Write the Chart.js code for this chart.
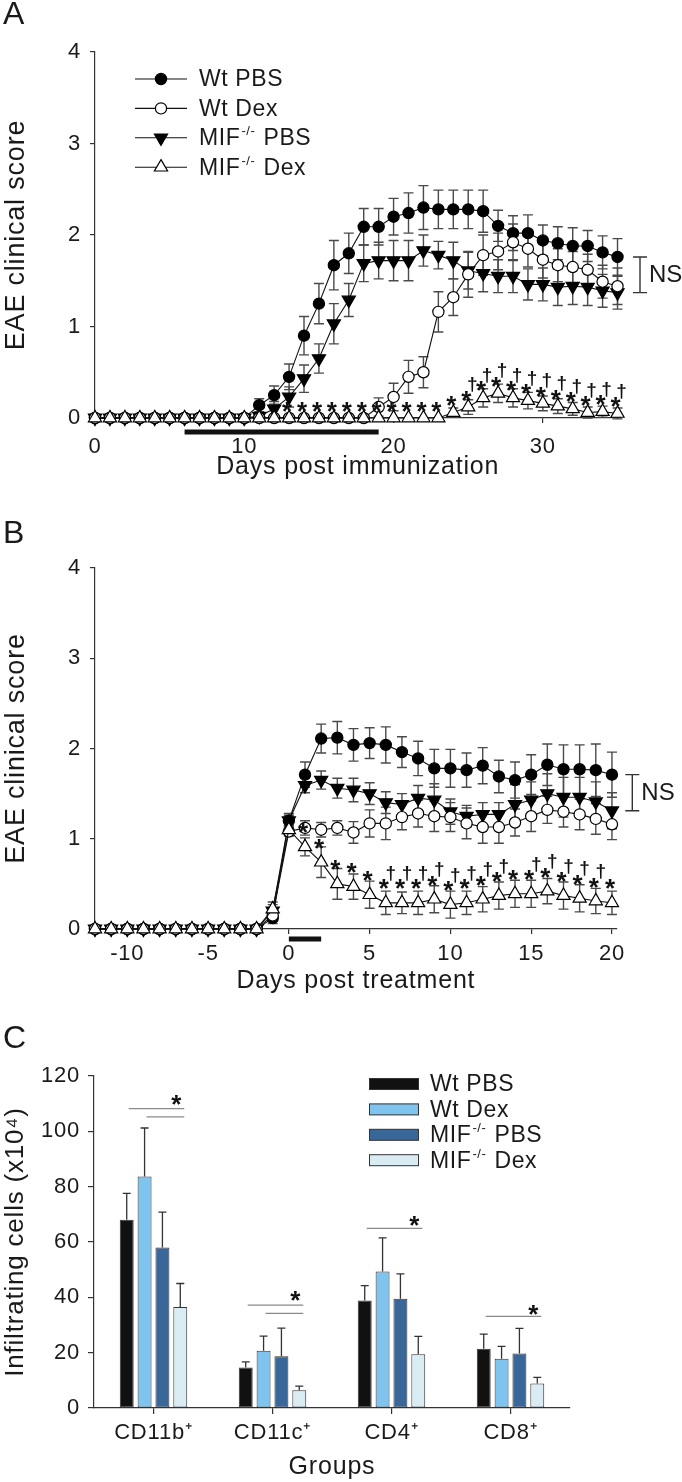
<!DOCTYPE html>
<html><head><meta charset="utf-8">
<script src="https://cdn.jsdelivr.net/npm/chart.js@4.4.1/dist/chart.umd.min.js"></script>
<style>
html,body{margin:0;padding:0;background:#fff;}
body{width:682px;height:1482px;position:relative;overflow:hidden;}
canvas{position:absolute;left:0;display:block;}
</style></head><body>
<canvas id="cA" width="682" height="490" style="top:0"></canvas>
<canvas id="cB" width="682" height="510" style="top:490px"></canvas>
<canvas id="cC" width="682" height="482" style="top:1000px"></canvas>
<script>
// ---------------- DATA ----------------
const seriesLabels = ['Wt PBS', 'Wt Dex', 'MIF-/- PBS', 'MIF-/- Dex'];

// Panel A: days post immunization
const daysA = [0,1,2,3,4,5,6,7,8,9,10,11,12,13,14,15,16,17,18,19,20,21,22,23,24,25,26,27,28,29,30,31,32,33,34,35];
const A_wtPBS     = [0,0,0,0,0,0,0,0,0,0,0, 0.14,0.25,0.45,0.90,1.25,1.67,1.80,2.09,2.09,2.20,2.24,2.30,2.28,2.28,2.28,2.26,2.10,2.02,2.02,1.94,1.91,1.88,1.88,1.81,1.76];
const A_wtPBS_err = [0,0,0,0,0,0,0,0,0,0,0, 0.07,0.10,0.14,0.21,0.22,0.27,0.22,0.20,0.20,0.20,0.22,0.24,0.21,0.21,0.21,0.23,0.17,0.19,0.20,0.17,0.18,0.20,0.17,0.18,0.20];
const A_wtDex     = [0,0,0,0,0,0,0,0,0,0,0,0,0,0,0,0,0,0,0, 0.12,0.23,0.45,0.50,1.16,1.32,1.57,1.78,1.82,1.92,1.85,1.73,1.67,1.65,1.62,1.49,1.44];
const A_wtDex_err = [0,0,0,0,0,0,0,0,0,0,0,0,0,0,0,0,0,0,0, 0.10,0.15,0.18,0.17,0.22,0.20,0.25,0.22,0.20,0.20,0.20,0.20,0.18,0.17,0.17,0.18,0.20];
const A_mifPBS     = [0,0,0,0,0,0,0,0,0,0,0, 0.02,0.10,0.23,0.43,0.65,1.03,1.29,1.69,1.72,1.72,1.72,1.83,1.78,1.72,1.61,1.58,1.55,1.55,1.46,1.46,1.43,1.44,1.43,1.39,1.37];
const A_mifPBS_err = [0,0,0,0,0,0,0,0,0,0,0, 0.03,0.08,0.11,0.15,0.16,0.22,0.18,0.20,0.20,0.22,0.22,0.17,0.15,0.20,0.20,0.20,0.18,0.18,0.17,0.18,0.20,0.20,0.20,0.18,0.18];
const A_mifDex     = [0,0,0,0,0,0,0,0,0,0,0,0,0,0,0,0,0,0,0,0,0,0,0,0, 0.06,0.12,0.22,0.27,0.22,0.19,0.16,0.13,0.10,0.06,0.07,0.05];
const A_mifDex_err = [0,0,0,0,0,0,0,0,0,0,0,0,0,0,0,0,0,0,0,0,0,0,0,0, 0.05,0.08,0.10,0.10,0.10,0.09,0.08,0.08,0.07,0.06,0.06,0.06];
const A_treatment = [6, 19];
const A_starDays = [13,14,15,16,17,18,19,20,21,22,23,24,25,26,27,28,29,30,31,32,33,34,35];
const A_daggerDays = [25,26,27,28,29,30,31,32,33,34,35];

// Panel B: days post treatment
const daysB = [-12,-11,-10,-9,-8,-7,-6,-5,-4,-3,-2,-1,0,1,2,3,4,5,6,7,8,9,10,11,12,13,14,15,16,17,18,19,20];
const B_wtPBS      = [0,0,0,0,0,0,0,0,0,0,0, 0.12,1.20,1.71,2.11,2.12,2.04,2.06,2.04,1.96,1.89,1.78,1.78,1.76,1.81,1.69,1.65,1.71,1.82,1.77,1.77,1.76,1.71];
const B_wtPBS_err  = [0,0,0,0,0,0,0,0,0,0,0, 0.06,0.08,0.14,0.16,0.18,0.18,0.17,0.20,0.17,0.19,0.21,0.21,0.19,0.20,0.18,0.20,0.22,0.23,0.27,0.27,0.29,0.25];
const B_wtDex      = [0,0,0,0,0,0,0,0,0,0,0, 0.15,1.08,1.12,1.10,1.12,1.07,1.17,1.17,1.24,1.28,1.25,1.24,1.17,1.13,1.13,1.18,1.25,1.32,1.30,1.27,1.22,1.16];
const B_wtDex_err  = [0,0,0,0,0,0,0,0,0,0,0, 0.06,0.05,0.08,0.08,0.08,0.12,0.15,0.18,0.14,0.15,0.17,0.16,0.17,0.18,0.18,0.15,0.17,0.15,0.17,0.17,0.17,0.17];
const B_mifPBS     = [0,0,0,0,0,0,0,0,0,0,0, 0.20,1.20,1.59,1.65,1.56,1.54,1.50,1.40,1.38,1.45,1.43,1.30,1.25,1.27,1.27,1.38,1.43,1.50,1.46,1.46,1.41,1.31];
const B_mifPBS_err = [0,0,0,0,0,0,0,0,0,0,0, 0.07,0.06,0.08,0.10,0.11,0.13,0.12,0.12,0.12,0.14,0.18,0.14,0.12,0.13,0.13,0.22,0.20,0.22,0.22,0.22,0.22,0.20];
const B_mifDex     = [0,0,0,0,0,0,0,0,0,0,0, 0.22,1.10,0.91,0.74,0.50,0.47,0.38,0.29,0.29,0.29,0.33,0.27,0.29,0.33,0.37,0.39,0.39,0.42,0.37,0.34,0.31,0.29];
const B_mifDex_err = [0,0,0,0,0,0,0,0,0,0,0, 0.08,0.05,0.10,0.17,0.17,0.14,0.15,0.13,0.12,0.13,0.15,0.15,0.13,0.14,0.15,0.15,0.15,0.14,0.15,0.15,0.14,0.13];
const B_treatment = [0, 2];
const B_starDays = [1,2,3,4,5,6,7,8,9,10,11,12,13,14,15,16,17,18,19,20];
const B_daggerDays = [6,7,8,9,10,11,12,13,15,16,17,18,19];

// Panel C: infiltrating cells (x10^4)
const C_groups = ['CD11b\u207A', 'CD11c\u207A', 'CD4\u207A', 'CD8\u207A'];
const C_wtPBS      = [68.0, 14.6, 38.9, 21.4];
const C_wtPBS_err  = [9.6, 2.1, 5.3, 5.3];
const C_wtDex      = [83.7, 20.7, 49.3, 17.8];
const C_wtDex_err  = [17.5, 5.3, 12.2, 4.5];
const C_mifPBS     = [58.0, 18.7, 39.5, 19.7];
const C_mifPBS_err = [12.8, 10.2, 9.0, 9.1];
const C_mifDex     = [36.5, 6.4, 19.4, 8.9];
const C_mifDex_err = [8.5, 1.5, 6.5, 2.2];
// significance: [from-series index, line level] per group, star level per group
const C_sigLines = [[[0,108.2],[1,105.2]], [[0,37.2],[1,34.2]], [[0,64.9]], [[0,33.1]]];
const C_sigStar  = [111.9, 40.9, 68.0, 36.1];

// ---------------- STYLE ----------------
const FONT = '"Liberation Sans", Arial, Helvetica, sans-serif';
Chart.defaults.font.family = FONT;
Chart.defaults.color = '#1a1a1a';
Chart.defaults.animation = false;
Chart.defaults.plugins.legend.display = false;
Chart.defaults.plugins.tooltip.enabled = false;

const TICK_FS = 22, TITLE_FS = 25, YTITLE_FS = 27, LEG_FS = 23;

const markers = [
  {pointStyle:'circle', rotation:0, radius:5.6, fill:'#000'},
  {pointStyle:'circle', rotation:0, radius:5.6, fill:'#fff'},
  {pointStyle:'triangle', rotation:180, radius:7.6, fill:'#000'},
  {pointStyle:'triangle', rotation:0, radius:7.6, fill:'#fff'}
];
const drawOrder = [4, 2, 3, 1];
const barColors = ['#111111', '#7ec4ee', '#3a6799', '#d9ebf3'];

function mkDs(i, days, vals, errs) {
  const m = markers[i];
  return {
    label: seriesLabels[i],
    data: days.map((d, k) => ({x: d, y: vals[k]})),
    errors: errs,
    borderColor: '#111', borderWidth: 1.1, tension: 0, clip: false,
    pointStyle: m.pointStyle, pointRotation: m.rotation, pointRadius: m.radius, pointHoverRadius: m.radius,
    pointBackgroundColor: m.fill, pointBorderColor: '#000', pointBorderWidth: 1.2,
    order: drawOrder[i]
  };
}

function supText(ctx, text, x, y, fs) {
  const parts = text.split('-/-');
  ctx.textAlign = 'left'; ctx.textBaseline = 'middle';
  ctx.font = fs + 'px ' + FONT;
  let cx = x;
  ctx.fillText(parts[0], cx, y); cx += ctx.measureText(parts[0]).width;
  if (parts.length > 1) {
    const sf = Math.round(fs * 0.58);
    ctx.font = sf + 'px ' + FONT;
    ctx.fillText('-/-', cx + 1, y - fs * 0.3);
    cx += ctx.measureText('-/-').width + 2;
    ctx.font = fs + 'px ' + FONT;
    ctx.fillText(parts[1], cx, y);
  }
}
function drawStar(ctx, x, yc) {
  const fs = 26;
  ctx.font = 'bold ' + fs + 'px ' + FONT; ctx.textAlign = 'center'; ctx.textBaseline = 'alphabetic';
  ctx.fillText('*', x, yc + 0.56 * fs);
}
function drawDagger(ctx, x, yc) {
  const fs = 19;
  ctx.font = 'bold ' + fs + 'px ' + FONT; ctx.textAlign = 'center'; ctx.textBaseline = 'alphabetic';
  ctx.fillText('\u2020', x, yc + 0.27 * fs);
}
function drawMarker(ctx, m, x, y) {
  ctx.fillStyle = m.fill; ctx.strokeStyle = '#000'; ctx.lineWidth = 1.2;
  ctx.beginPath();
  if (m.pointStyle === 'circle') {
    ctx.arc(x, y, m.radius, 0, Math.PI * 2);
  } else {
    let rad = m.rotation * Math.PI / 180;
    for (let k = 0; k < 3; k++) {
      const px = x + Math.sin(rad) * m.radius, py = y - Math.cos(rad) * m.radius;
      if (k === 0) ctx.moveTo(px, py); else ctx.lineTo(px, py);
      rad += 2 * Math.PI / 3;
    }
    ctx.closePath();
  }
  ctx.fill(); ctx.stroke();
}
function drawLetter(ctx, letter, x, y) {
  ctx.save();
  ctx.fillStyle = '#1a1a1a';
  ctx.font = '32px ' + FONT; ctx.textAlign = 'center'; ctx.textBaseline = 'middle';
  ctx.fillText(letter, x, y);
  ctx.restore();
}

const spacingPlugin = { id: 'spacing', beforeDraw(chart) { chart.ctx.letterSpacing = '0.8px'; } };

// error bars for line charts (symmetric, capped)
const errPlugin = {
  id: 'errbars',
  beforeDatasetsDraw(chart) {
    const {ctx, scales: {x, y}} = chart;
    ctx.save();
    ctx.strokeStyle = '#4a4a4a'; ctx.lineWidth = 1.4;
    chart.data.datasets.forEach(ds => {
      ds.data.forEach((p, k) => {
        const e = ds.errors[k];
        if (!e) return;
        const px = x.getPixelForValue(p.x);
        const yt = y.getPixelForValue(p.y + e), yb = y.getPixelForValue(p.y - e);
        ctx.beginPath();
        ctx.moveTo(px, yt); ctx.lineTo(px, yb);
        ctx.moveTo(px - 5, yt); ctx.lineTo(px + 5, yt);
        ctx.moveTo(px - 5, yb); ctx.lineTo(px + 5, yb);
        ctx.stroke();
      });
    });
    ctx.restore();
  }
};

const annPlugin = {
  id: 'ann',
  afterDatasetsDraw(chart, args, o) {
    const {ctx, chartArea: ca, scales: {x, y}} = chart;
    const dsets = chart.data.datasets;
    ctx.save();
    ctx.letterSpacing = '0px';
    ctx.fillStyle = '#111';
    const ref = dsets[3];
    const valAt = d => { const p = ref.data.find(q => q.x === d); return p ? p.y : 0; };
    o.stars.forEach(d => drawStar(ctx, x.getPixelForValue(d) + o.starDx, y.getPixelForValue(valAt(d)) + o.starDy));
    o.daggers.forEach(d => drawDagger(ctx, x.getPixelForValue(d) + o.dagDx, y.getPixelForValue(valAt(d)) + o.dagDy));
    // treatment period bar
    ctx.strokeStyle = '#111'; ctx.lineWidth = 5; ctx.lineCap = 'butt';
    const yb = ca.bottom + o.barOffset;
    ctx.beginPath(); ctx.moveTo(x.getPixelForValue(o.treat[0]), yb); ctx.lineTo(x.getPixelForValue(o.treat[1]), yb); ctx.stroke();
    // NS bracket between last Wt PBS and last MIF PBS points
    const lastY = ds => ds.data[ds.data.length - 1].y;
    const y1 = y.getPixelForValue(lastY(dsets[0])), y2 = y.getPixelForValue(lastY(dsets[2]));
    const bx = ca.right + o.nsDx;
    ctx.strokeStyle = '#333'; ctx.lineWidth = 1.4;
    ctx.beginPath();
    ctx.moveTo(bx, y1); ctx.lineTo(bx, y2);
    ctx.moveTo(bx - 7, y1); ctx.lineTo(bx + 7, y1);
    ctx.moveTo(bx - 7, y2); ctx.lineTo(bx + 7, y2);
    ctx.stroke();
    ctx.fillStyle = '#1a1a1a';
    ctx.font = '24px ' + FONT; ctx.textAlign = 'left'; ctx.textBaseline = 'middle';
    ctx.fillText('NS', bx + 9, (y1 + y2) / 2 + 1);
    // legend
    if (o.legend) {
      const L = o.legend;
      dsets.forEach((ds, i) => {
        const ly = L.y0 + i * L.dy;
        ctx.strokeStyle = '#111'; ctx.lineWidth = 1.1;
        ctx.beginPath(); ctx.moveTo(L.x - L.half, ly); ctx.lineTo(L.x + L.half, ly); ctx.stroke();
        drawMarker(ctx, markers[i], L.x, ly);
        ctx.fillStyle = '#1a1a1a';
        ctx.letterSpacing = '0.6px';
        supText(ctx, ds.label, L.textX, ly + 1, LEG_FS);
        ctx.letterSpacing = '0px';
      });
    }
    ctx.restore();
    drawLetter(ctx, o.letter, o.letterX, o.letterY);
  }
};

function lineOptions(p) {
  const tickFont = {size: TICK_FS};
  return {
    responsive: false,
    layout: {padding: {top: p.top, right: p.right, bottom: 0, left: 0}},
    scales: {
      x: {
        type: 'linear', min: p.xmin, max: p.xmax,
        afterFit: s => { s.height = p.xH; },
        border: {display: true, color: '#333', width: 1.2},
        grid: {display: true, drawOnChartArea: false, drawTicks: true, tickLength: 5, color: '#333', lineWidth: 1.2},
        ticks: {stepSize: p.xstep, includeBounds: false, font: tickFont, padding: p.xTickPad, color: '#1a1a1a', maxRotation: 0, autoSkip: false},
        title: {display: true, text: p.xTitle, font: {size: TITLE_FS}, color: '#1a1a1a', padding: {top: 0, bottom: p.xTitlePad}}
      },
      y: {
        type: 'linear', min: 0, max: 4,
        afterFit: s => { s.width = p.yW; },
        border: {display: true, color: '#333', width: 1.2},
        grid: {display: true, drawOnChartArea: false, drawTicks: true, tickLength: 5, color: '#333', lineWidth: 1.2},
        ticks: {stepSize: 1, font: tickFont, padding: p.yTickPad, color: '#1a1a1a'},
        title: {display: true, text: 'EAE clinical score', font: {size: YTITLE_FS}, color: '#1a1a1a', padding: {top: 0, bottom: 0}}
      }
    },
    plugins: {ann: p.ann}
  };
}

// ---------------- PANEL A ----------------
new Chart(document.getElementById('cA'), {
  type: 'line',
  data: {datasets: [
    mkDs(0, daysA, A_wtPBS, A_wtPBS_err),
    mkDs(1, daysA, A_wtDex, A_wtDex_err),
    mkDs(2, daysA, A_mifPBS, A_mifPBS_err),
    mkDs(3, daysA, A_mifDex, A_mifDex_err)
  ]},
  options: lineOptions({
    top: 52, right: 61.5, xH: 72, yW: 95, xmin: 0, xmax: 35.2, xstep: 10,
    xTickPad: 11, xTitlePad: 8, yTickPad: 9, xTitle: 'Days post immunization',
    ann: {stars: A_starDays, daggers: A_daggerDays, starDx: -2, starDy: -13, dagDx: 4, dagDy: -22,
          treat: A_treatment, barOffset: 14, nsDx: 19.5,
          legend: {x: 161, y0: 79, dy: 29.4, half: 26, textX: 199},
          letter: 'A', letterX: 14, letterY: 15}
  }),
  plugins: [spacingPlugin, errPlugin, annPlugin]
});

// ---------------- PANEL B ----------------
new Chart(document.getElementById('cB'), {
  type: 'line',
  data: {datasets: [
    mkDs(0, daysB, B_wtPBS, B_wtPBS_err),
    mkDs(1, daysB, B_wtDex, B_wtDex_err),
    mkDs(2, daysB, B_mifPBS, B_mifPBS_err),
    mkDs(3, daysB, B_mifDex, B_mifDex_err)
  ]},
  options: lineOptions({
    top: 78, right: 65.2, xH: 71, yW: 95, xmin: -12, xmax: 20.3, xstep: 5,
    xTickPad: 7, xTitlePad: 4, yTickPad: 9, xTitle: 'Days post treatment',
    ann: {stars: B_starDays, daggers: B_daggerDays, starDx: -2, starDy: -20, dagDx: 5, dagDy: -29,
          treat: B_treatment, barOffset: 10, nsDx: 15.5, legend: null,
          letter: 'B', letterX: 14, letterY: 44}
  }),
  plugins: [spacingPlugin, errPlugin, annPlugin]
});

// ---------------- PANEL C ----------------
const barErrPlugin = {
  id: 'barAnn',
  afterDatasetsDraw(chart) {
    const {ctx, scales: {y}} = chart;
    const dsets = chart.data.datasets;
    ctx.save();
    ctx.letterSpacing = '0px';
    // error bars (upper)
    ctx.strokeStyle = '#333'; ctx.lineWidth = 1.3;
    dsets.forEach((ds, i) => {
      const meta = chart.getDatasetMeta(i);
      meta.data.forEach((el, k) => {
        const yt = y.getPixelForValue(ds.data[k] + ds.errors[k]);
        ctx.beginPath();
        ctx.moveTo(el.x, el.y); ctx.lineTo(el.x, yt);
        ctx.moveTo(el.x - 4, yt); ctx.lineTo(el.x + 4, yt);
        ctx.stroke();
      });
    });
    // significance lines
    const last = chart.getDatasetMeta(3);
    ctx.strokeStyle = '#8a8a8a'; ctx.lineWidth = 1.3;
    C_sigLines.forEach((lines, g) => {
      lines.forEach(([from, lvl]) => {
        const xs = chart.getDatasetMeta(from).data[g].x + 2;
        const xe = last.data[g].x + 4;
        const yy = y.getPixelForValue(lvl);
        ctx.beginPath(); ctx.moveTo(xs, yy); ctx.lineTo(xe, yy); ctx.stroke();
      });
      ctx.fillStyle = '#111';
      drawStar(ctx, last.data[g].x - 4, y.getPixelForValue(C_sigStar[g]));
    });
    // legend
    dsets.forEach((ds, i) => {
      const ly = 84 + i * 25.4;
      ctx.fillStyle = ds.backgroundColor; ctx.strokeStyle = '#333'; ctx.lineWidth = 1;
      ctx.fillRect(369, ly - 5.5, 49, 11);
      ctx.strokeRect(369.5, ly - 5.5, 49, 11);
      ctx.fillStyle = '#1a1a1a';
      ctx.letterSpacing = '0.6px';
      supText(ctx, ds.label, 430, ly + 1, LEG_FS);
      ctx.letterSpacing = '0px';
    });
    ctx.restore();
    drawLetter(ctx, 'C', 15, 39);
  }
};

const cVals = [C_wtPBS, C_wtDex, C_mifPBS, C_mifDex];
const cErrs = [C_wtPBS_err, C_wtDex_err, C_mifPBS_err, C_mifDex_err];
new Chart(document.getElementById('cC'), {
  type: 'bar',
  data: {
    labels: C_groups,
    datasets: cVals.map((v, i) => ({
      label: seriesLabels[i], data: v, errors: cErrs[i],
      backgroundColor: barColors[i], borderColor: '#333', borderWidth: 1, borderSkipped: false,
      categoryPercentage: 0.6, barPercentage: 0.78
    }))
  },
  options: {
    responsive: false,
    layout: {padding: {top: 76, right: 112, bottom: 0, left: 0}},
    scales: {
      x: {
        type: 'category', offset: true,
        afterFit: s => { s.height = 74; },
        border: {display: true, color: '#333', width: 1.2},
        grid: {display: true, offset: false, drawOnChartArea: false, drawTicks: true, tickLength: 6, color: '#333', lineWidth: 1.2},
        ticks: {font: {size: 22}, padding: 6, color: '#1a1a1a', maxRotation: 0},
        title: {display: true, text: 'Groups', font: {size: TITLE_FS}, color: '#1a1a1a', padding: {top: 0, bottom: 0}}
      },
      y: {
        type: 'linear', min: 0, max: 120,
        afterFit: s => { s.width = 94; },
        border: {display: true, color: '#333', width: 1.2},
        grid: {display: true, drawOnChartArea: false, drawTicks: true, tickLength: 6, color: '#333', lineWidth: 1.2},
        ticks: {stepSize: 20, font: {size: TICK_FS}, padding: 8, color: '#1a1a1a'},
        title: {display: true, text: 'Infiltrating cells (x10\u2074)', font: {size: 26}, color: '#1a1a1a', padding: {top: 0, bottom: 0}}
      }
    }
  },
  plugins: [spacingPlugin, barErrPlugin]
});
</script>
</body></html>
